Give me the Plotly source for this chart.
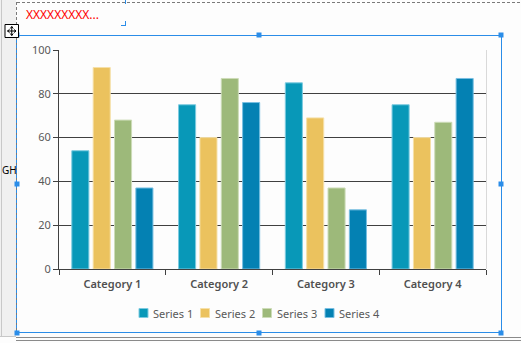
import plotly.graph_objects as go

# ---- data ----
categories = ["Category 1", "Category 2", "Category 3", "Category 4"]
series_names = ["Series 1", "Series 2", "Series 3", "Series 4"]
series1 = [54, 75, 85, 75]
series2 = [92, 60, 69, 60]
series3 = [68, 87, 37, 67]
series4 = [37, 76, 27, 87]
y_ticks = [0, 20, 40, 60, 80, 100]
title_text = "XXXXXXXXX..."
side_text = "GH"

series_values = [series1, series2, series3, series4]
colors = ["#0898b8", "#ebc25e", "#9db97a", "#0481b3"]
edge_colors = ["#7ccbe0", "#f6e0a8", "#cddcb8", "#78bfe2"]

W, H = 521, 343
L, R, T, B = 59, 486, 50, 269  # plot area in pixels


def px(x):
    return (x - L) / (R - L)


def py(y):
    return (B - y) / (B - T)


fig = go.Figure()
for name, vals, c, ec in zip(series_names, series_values, colors, edge_colors):
    fig.add_trace(go.Bar(
        x=categories, y=vals, name=name,
        marker=dict(color=c, line=dict(color=ec, width=1)),
        showlegend=False,
    ))

BLUE = "#2b8de8"
GRAY_DASH = "#7a7a7a"
shapes = []


def line(x0, y0, x1, y1, color, width=1, dash="solid"):
    shapes.append(dict(type="line", xref="paper", yref="paper",
                       x0=px(x0), y0=py(y0), x1=px(x1), y1=py(y1),
                       line=dict(color=color, width=width, dash=dash), layer="above"))


def rect(x0, y0, x1, y1, fill, lc=None, lw=0):
    shapes.append(dict(type="rect", xref="paper", yref="paper",
                       x0=px(x0), y0=py(y0), x1=px(x1), y1=py(y1),
                       fillcolor=fill, line=dict(color=lc or fill, width=lw), layer="above"))


# left gray strip
rect(0, 0, 16, 336.5, "#f0f0f0")
line(1.5, 0, 1.5, 336.5, "#c8c8c8")
line(0, 336.5, 16, 336.5, "#c8c8c8")
# dashed frame
line(17, 2.5, 521, 2.5, GRAY_DASH, 1, "3px,2px")
line(16.5, 2, 16.5, 338, GRAY_DASH, 1, "3px,2px")
# bottom double line
line(16, 337.5, 521, 337.5, "#8a8a8a")
line(16, 340.5, 521, 340.5, "#8a8a8a")
# selection box
line(17, 35.5, 501, 35.5, BLUE)
line(501.5, 35, 501.5, 333, BLUE)
line(17, 332.5, 501, 332.5, BLUE)
line(16.5, 35, 16.5, 333, BLUE, 1, "3px,2px")
for hx, hy in [(17, 35), (259, 35), (501, 35), (17, 184), (501, 184),
               (17, 333), (259, 333), (501, 333)]:
    rect(hx - 2.5, hy - 2.5, hx + 2.5, hy + 2.5, BLUE)
# text-box corner marks
line(125.5, 0, 125.5, 4, BLUE)
line(121, 25.5, 126, 25.5, BLUE)
line(125.5, 21, 125.5, 26, BLUE)
# move icon (box with four-way arrow)
rect(5, 24.5, 18.5, 37.5, "#ffffff", "#000000", 1)
line(7.5, 31, 16, 31, "#000000")
line(11.75, 26.5, 11.75, 35.5, "#000000")
for a in [((7.5, 31), (9.5, 29.5)), ((7.5, 31), (9.5, 32.5)),
          ((16, 31), (14, 29.5)), ((16, 31), (14, 32.5)),
          ((11.75, 26.5), (10.25, 28.5)), ((11.75, 26.5), (13.25, 28.5)),
          ((11.75, 35.5), (10.25, 33.5)), ((11.75, 35.5), (13.25, 33.5))]:
    line(a[0][0], a[0][1], a[1][0], a[1][1], "#000000")
# right plot border
line(486.5, 50, 486.5, 269, "#d9d9d9")

annotations = [
    dict(text=title_text, xref="paper", yref="paper", x=px(24), y=py(15),
         xanchor="left", yanchor="middle", showarrow=False,
         font=dict(family="Noto Sans", size=12, color="#ff0000")),
    dict(text=side_text, xref="paper", yref="paper", x=px(0.5), y=py(170),
         xanchor="left", yanchor="middle", showarrow=False,
         font=dict(family="Noto Sans", size=10, color="#000000")),
]

# legend (drawn manually for compact spacing)
leg_sq_x = [139, 200.5, 262.5, 325]
for name, c, ec, sx in zip(series_names, colors, edge_colors, leg_sq_x):
    rect(sx, 308.5, sx + 9, 317.5, c, ec, 1)
    annotations.append(dict(text=name, xref="paper", yref="paper",
                            x=px(sx + 12), y=py(313.5), xanchor="left", yanchor="middle",
                            showarrow=False,
                            font=dict(family="Noto Sans", size=11, color="#595959")))

fig.update_layout(
    width=W, height=H,
    margin=dict(l=L, r=W - R, t=T, b=H - B, pad=0),
    paper_bgcolor="#fdfdfd", plot_bgcolor="#fdfdfd",
    barmode="group", bargap=0.2, bargroupgap=0.2,
    font=dict(family="Noto Sans", size=11, color="#595959"),
    shapes=shapes, annotations=annotations,
    showlegend=False,
)
fig.update_xaxes(
    showgrid=False, showline=True, linecolor="#404040", linewidth=1,
    ticks="outside", tickson="boundaries", ticklen=5, tickcolor="#404040",
    ticklabelstandoff=5,
    tickfont=dict(family="Noto Sans", size=11, color="#505050", weight=600),
)
fig.update_yaxes(
    range=[0, 100], tickvals=y_ticks, showgrid=True, gridcolor="#404040", gridwidth=1,
    showline=True, linecolor="#404040", linewidth=1, zeroline=False,
    ticks="outside", ticklen=5, tickcolor="#404040",
    tickfont=dict(family="Noto Sans", size=11, color="#595959"),
)

fig.write_html("out.html")
